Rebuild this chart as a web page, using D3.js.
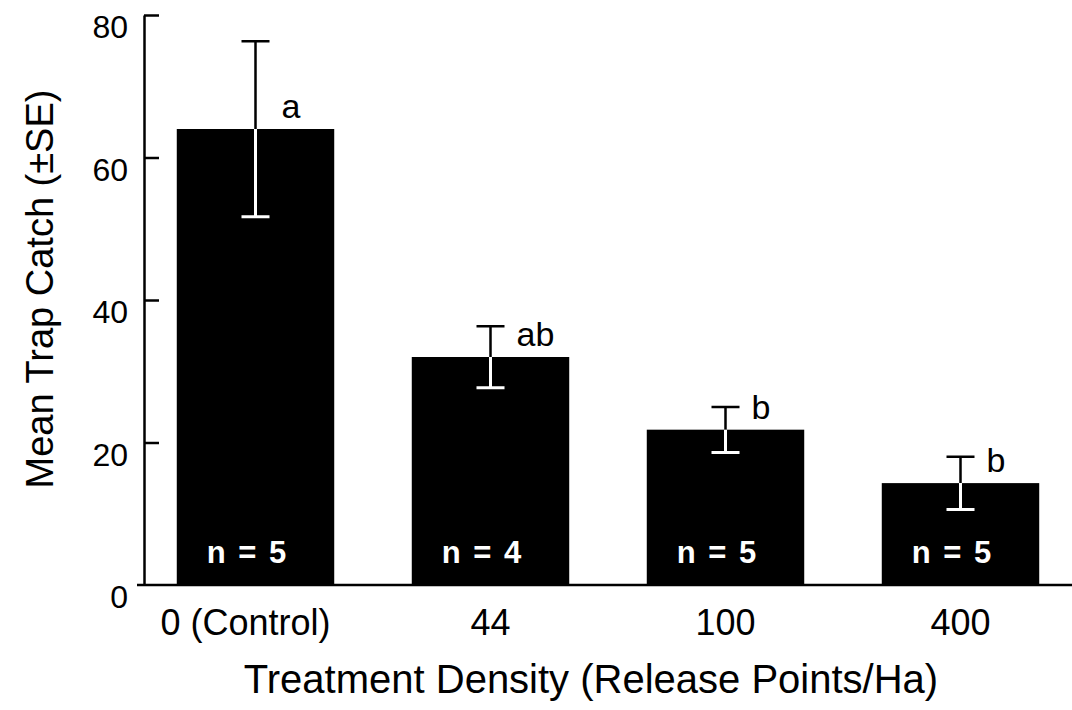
<!DOCTYPE html>
<html>
<head>
<meta charset="utf-8">
<script src="https://cdn.jsdelivr.net/npm/d3@7"></script>
<style>
  body { margin: 0; background: #fff; }
  text { font-family: "Liberation Sans", Arial, Helvetica, sans-serif; }
</style>
</head>
<body>
<div id="chart"></div>
<script>
// data
var treatments = ["0 (Control)", "44", "100", "400"];
var meanCatch  = [64, 32, 21.8, 14.3];
var seCatch    = [12.3, 4.3, 3.2, 3.7];
var sampleN    = [5, 4, 5, 5];
var sigLetters = ["a", "ab", "b", "b"];
var yTicks     = [0, 20, 40, 60, 80];

var width = 1072, height = 710;
var baseY = 585;

var xScale = d3.scaleBand().domain(treatments).range([138, 1078])
    .paddingInner(0.33).paddingOuter(0.165);
var yScale = d3.scaleLinear().domain([0, 80]).range([baseY, 15]);

var svg = d3.select("#chart").append("svg")
    .attr("width", width)
    .attr("height", height);

var rows = treatments.map(function(t, i) {
    return { t: t, mean: meanCatch[i], se: seCatch[i], n: sampleN[i], sig: sigLetters[i] };
});

// bars
svg.append("g").selectAll("rect")
    .data(rows)
    .enter().append("rect")
    .attr("x", function(d) { return xScale(d.t); })
    .attr("y", function(d) { return yScale(d.mean); })
    .attr("width", xScale.bandwidth())
    .attr("height", function(d) { return baseY - yScale(d.mean); })
    .attr("fill", "#000");

// error bars: black above the bar, white inside it
var cap = 14;
var err = svg.append("g").selectAll("g")
    .data(rows)
    .enter().append("g")
    .attr("transform", function(d) {
        return "translate(" + (xScale(d.t) + xScale.bandwidth() / 2) + ",0)";
    });

err.append("path")
    .attr("d", function(d) {
        var m = yScale(d.mean), hi = yScale(d.mean + d.se);
        return "M0 " + m + " L0 " + hi + " M" + (-cap) + " " + hi + " L" + cap + " " + hi;
    })
    .attr("stroke", "#000")
    .attr("stroke-width", 2.5)
    .attr("fill", "none");

err.append("path")
    .attr("d", function(d) {
        var m = yScale(d.mean), lo = yScale(d.mean - d.se);
        return "M0 " + m + " L0 " + lo + " M" + (-cap) + " " + lo + " L" + cap + " " + lo;
    })
    .attr("stroke", "#fff")
    .attr("stroke-width", 3)
    .attr("fill", "none");

// significance letters
err.append("text")
    .attr("x", 26)
    .attr("y", function(d) { return yScale(d.mean) - 11; })
    .attr("font-size", 34)
    .text(function(d) { return d.sig; });

// n labels inside bars
svg.append("g").selectAll("text")
    .data(rows)
    .enter().append("text")
    .attr("x", function(d) { return xScale(d.t) + xScale.bandwidth() / 2 - 8; })
    .attr("y", baseY - 22)
    .attr("text-anchor", "middle")
    .attr("font-size", 31)
    .attr("font-weight", "bold")
    .attr("letter-spacing", 2)
    .attr("fill", "#fff")
    .text(function(d) { return "n = " + d.n; });

// y axis, ticks pointing inward
var yAxis = svg.append("g")
    .attr("transform", "translate(144,0)")
    .call(d3.axisLeft(yScale).tickValues(yTicks).tickSizeInner(-15).tickSizeOuter(0).tickPadding(16));
yAxis.select(".domain").attr("stroke-width", 2.5);
yAxis.selectAll(".tick line").attr("stroke-width", 2.5)
    .filter(function(d) { return d === 0; }).remove();
yAxis.selectAll(".tick text")
    .attr("font-size", 32)
    .attr("font-family", "Liberation Sans, Arial, sans-serif")
    .attr("dy", "0.71em");

// x axis
var xAxis = svg.append("g")
    .attr("transform", "translate(0," + baseY + ")")
    .call(d3.axisBottom(xScale).tickSize(0).tickPadding(24));
xAxis.select(".domain").attr("stroke-width", 2.5).attr("d", "M137,0H1072");
xAxis.selectAll(".tick text")
    .attr("font-size", 36)
    .attr("font-family", "Liberation Sans, Arial, sans-serif")
    .attr("dx", function(d, i) { return i === 0 ? -10 : 0; });

// axis titles
svg.append("text")
    .attr("x", 591)
    .attr("y", 693)
    .attr("text-anchor", "middle")
    .attr("font-size", 40)
    .text("Treatment Density (Release Points/Ha)");

svg.append("text")
    .attr("transform", "translate(53,289) rotate(-90)")
    .attr("text-anchor", "middle")
    .attr("font-size", 38)
    .text("Mean Trap Catch (\u00b1SE)");
</script>
</body>
</html>
